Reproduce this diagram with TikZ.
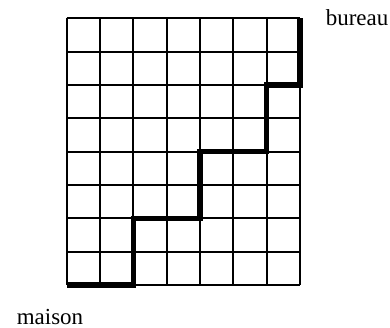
\documentclass[tikz,border=0pt]{standalone}
\usepackage{fontspec}
\setmainfont{Liberation Serif}
\usepackage{tikz}

\begin{document}
\begin{tikzpicture}[x=0.5cm,y=0.5cm,
  grille/.style={black,line width=0.8pt},
  chemin/.style={black,line width=2.2pt,line join=miter},
  every node/.style={font=\fontsize{9.8}{12}\selectfont,inner sep=0pt}]
  \useasboundingbox (-2,-1.29) rectangle (9.7,8.55);
  % 7 columns, 8 rows
  \draw[grille,step=0.5cm] (0,0) grid (7,8);

  \coordinate (depart) at (0,0);
  \coordinate (arrivee) at (7,8);
  % staircase path from home to office
  \draw[chemin] (depart) -- (2,0) -- (2,2) -- (4,2) -- (4,4)
    -- (6,4) -- (6,6) -- (7,6) -- (arrivee);

  \node[anchor=base] (maison) at (-0.5,-1.2) {maison};
  \node[anchor=base west] (bureau) at (7.76,7.78) {bureau};
\end{tikzpicture}
\end{document}
